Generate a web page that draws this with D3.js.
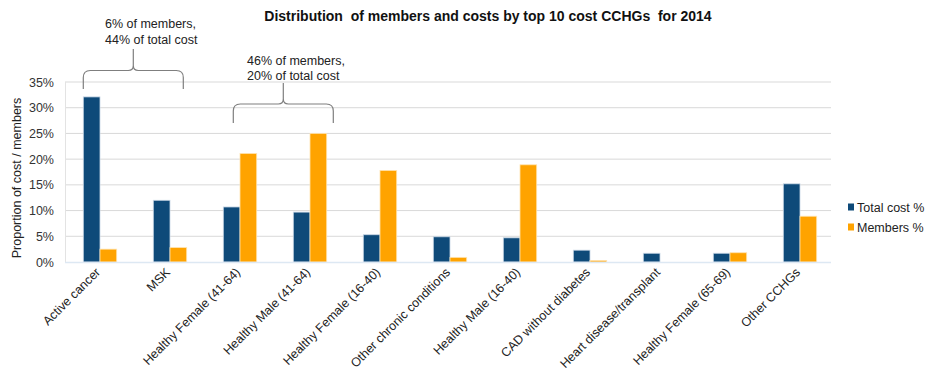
<!DOCTYPE html>
<html><head><meta charset="utf-8">
<script src="https://cdn.jsdelivr.net/npm/d3@7"></script>
<style>body{margin:0;background:#fff;} svg{display:block;font-family:"Liberation Sans",Arial,sans-serif;}</style>
</head><body>
<svg id="c" width="927" height="373"></svg>
<script>
const categories = ["Active cancer","MSK","Healthy Female (41-64)","Healthy Male (41-64)","Healthy Female (16-40)","Other chronic conditions","Healthy Male (16-40)","CAD without diabetes","Heart disease/transplant","Healthy Female (65-69)","Other CCHGs"];
const totalCost = [32.1,12.0,10.7,9.7,5.3,4.9,4.7,2.3,1.7,1.7,15.2];
const members = [2.5,2.8,21.1,25.0,17.8,0.9,18.9,0.3,0,1.8,8.9];
const seriesNames = ["Total cost %","Members %"];
const yTicks = [0,5,10,15,20,25,30,35];
const title = "Distribution  of members and costs by top 10 cost CCHGs  for 2014";
const annotations = [
  {lines:["6% of members,","44% of total cost"], from:0},
  {lines:["46% of members,","20% of total cost"], from:2}
];

const colors = ["#0E4A79","#FFA300"];
const svg = d3.select("#c");
const L=65, R=831, T=82, B=262;
const x = d3.scaleBand().domain(categories).range([L, L+70*categories.length]).paddingInner(0).paddingOuter(0);
const xs = d3.scaleBand().domain(seriesNames).range([18.3, 51.7]);
const y = d3.scaleLinear().domain([0,35]).range([B,T]);

// gridlines
svg.append("g").selectAll("line").data(yTicks.filter(d=>d>0)).join("line")
  .attr("x1",L).attr("x2",R).attr("y1",d=>y(d)).attr("y2",d=>y(d))
  .attr("stroke","#D9D9D9").attr("stroke-width",1);
svg.append("line").attr("x1",L+0.5).attr("x2",L+0.5).attr("y1",T).attr("y2",B).attr("stroke","#E3E3E3");
const yAxis = d3.axisLeft(y).tickValues(yTicks).tickFormat(d=>d+"%").tickSize(0).tickPadding(11);
const ya = svg.append("g").attr("transform",`translate(${L},0)`).call(yAxis);
ya.select(".domain").remove();
ya.selectAll("text").attr("font-size",12.5).attr("fill","#333").attr("font-family","Liberation Sans, Arial, sans-serif");

// bars
const data = categories.map((c,i)=>({c, v:[totalCost[i],members[i]]}));
const g = svg.append("g").selectAll("g").data(data).join("g").attr("transform",d=>`translate(${x(d.c)},0)`);
g.selectAll("rect").data(d=>d.v.map((v,k)=>({v,k}))).join("rect")
  .attr("x",d=>xs(seriesNames[d.k])).attr("width",xs.bandwidth())
  .attr("y",d=>y(d.v)).attr("height",d=>B-y(d.v))
  .attr("fill",d=>colors[d.k])
  .attr("stroke",d=>d.v>0?(d.k===0?"#C9D7E6":"#FFE3B0"):"none").attr("stroke-width",0.8);

svg.append("line").attr("x1",L).attr("x2",R).attr("y1",B+0.5).attr("y2",B+0.5).attr("stroke","#DDE8F3").attr("stroke-width",1.5);

// x labels
svg.append("g").selectAll("text").data(categories).join("text")
  .attr("transform",d=>`translate(${x(d)+x.bandwidth()/2+1},${B+11}) rotate(-45)`)
  .attr("text-anchor","end").attr("font-size",12.5).attr("fill","#222").text(d=>d);

// title
svg.append("text").attr("x",488).attr("y",21).attr("text-anchor","middle").attr("font-weight","bold")
  .attr("font-size",14).attr("fill","#111").style("white-space","pre").text(title);

// y title
svg.append("text").attr("transform","translate(21,178) rotate(-90)").attr("text-anchor","middle")
  .attr("font-size",12.5).attr("fill","#222").text("Proportion of cost / members");

// legend
const lg = svg.append("g").attr("transform","translate(848,207)");
seriesNames.forEach((s,i)=>{
  lg.append("rect").attr("x",0).attr("y",i*20-3.5).attr("width",6).attr("height",7).attr("fill",colors[i]);
  lg.append("text").attr("x",9).attr("y",i*20+4.5).attr("font-size",12.5).attr("fill","#222").text(s);
});

// braces
const braceDims = [{off:0, w:100, top:49, mid:70.5, bot:89, tx:105, ty:[28,44]},{off:10, w:100, top:83, mid:104, bot:123, tx:247, ty:[65,80]}];
annotations.forEach((a,i)=>{
  const d = braceDims[i];
  const x0 = x(categories[a.from]) + xs(seriesNames[0]) + d.off;
  const x1 = x0 + d.w;
  const xm = (x0+x1)/2;
  const r = 7, rm = 5;
  const p = d3.path();
  p.moveTo(x0, d.bot);
  p.lineTo(x0, d.mid+r);
  p.quadraticCurveTo(x0, d.mid, x0+r, d.mid);
  p.lineTo(xm-rm, d.mid);
  p.quadraticCurveTo(xm, d.mid, xm, d.mid-rm);
  p.lineTo(xm, d.top);
  p.moveTo(xm, d.mid-rm);
  p.quadraticCurveTo(xm, d.mid, xm+rm, d.mid);
  p.lineTo(x1-r, d.mid);
  p.quadraticCurveTo(x1, d.mid, x1, d.mid+r);
  p.lineTo(x1, d.bot);
  svg.append("path").attr("d",p.toString()).attr("fill","none").attr("stroke","#7F7F7F").attr("stroke-width",1.2);
  a.lines.forEach((t,j)=>{
    svg.append("text").attr("x",d.tx).attr("y",d.ty[j]).attr("font-size",12.5).attr("fill","#222").text(t);
  });
});
</script>
</body></html>
